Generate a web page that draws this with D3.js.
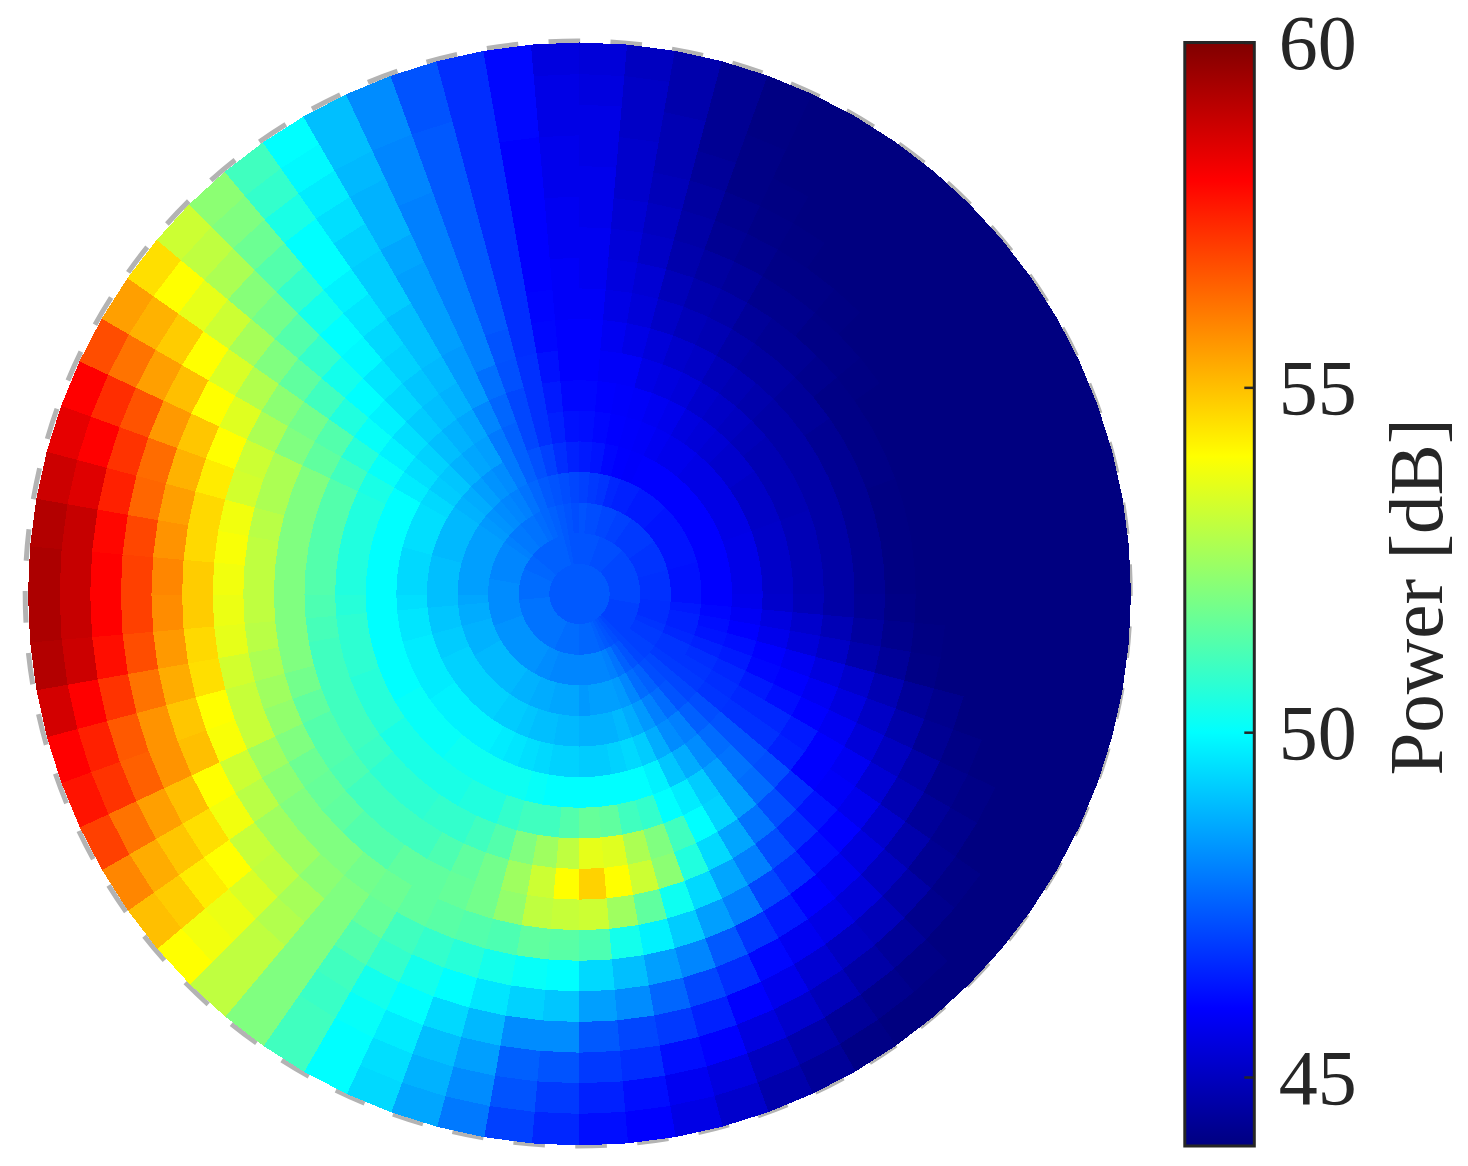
<!DOCTYPE html>
<html>
<head>
<meta charset="utf-8">
<script src="https://cdn.jsdelivr.net/npm/d3@7"></script>
<style>
  html, body { margin: 0; background: #fff; }
  svg { display: block; }
  text { font-family: "Liberation Serif", serif; fill: #262626; }
</style>
</head>
<body>
<div id="chart"></div>
<script>
// power in dB, one row per 5 degree sector, inner ring first.
// sectors run clockwise starting from the bottom of the disc
const lowerLeft = [
  [47.4,47.7,48.1,48.6,48.9,49.3,50,51.3,53,54,53.1,51.4,50,49.1,48.2,47.3,46.9,46.6],
  [47.4,47.7,48.1,48.6,48.9,49.3,50,51,52.5,53.2,53,51.5,50.1,49.3,48.2,47.5,47.3,47],
  [47.4,47.7,48.1,48.6,49,49.4,50.1,51,52,52.5,52.3,51.2,50.3,49.6,48.9,48.5,48.2,47.9],
  [47.4,47.7,48.1,48.7,49,49.5,50.2,50.8,51.3,51.8,51.8,51.3,50.6,50,49.4,49,48.8,48.6],
  [47.4,47.7,48.2,48.7,49.1,49.6,50.2,50.5,51,51.5,51.6,51.4,50.8,50.3,50,49.7,49.5,49.4],
  [47.4,47.8,48.2,48.8,49.2,49.7,50.2,50.5,50.8,51.2,51.5,51.5,51,50.8,50.3,50.1,50,50],
  [47.4,47.8,48.3,48.8,49.2,49.8,50.2,50.4,50.8,51,51.5,51.7,51.6,51.3,51,50.9,51,51],
  [47.4,47.8,48.3,48.9,49.3,49.8,50.2,50.4,50.7,51,51.3,51.8,52,52,52,52,52,52],
  [47.4,47.8,48.3,48.9,49.3,49.8,50.1,50.4,50.7,51,51.3,52,52.2,52.6,52.8,53,53,53],
  [47.4,47.8,48.3,48.9,49.3,49.8,50.1,50.4,50.7,51,51.5,52,52.5,53,53.4,53.7,53.8,54],
  [47.4,47.8,48.3,48.9,49.3,49.8,50.1,50.4,50.9,51.2,51.6,52,52.5,53.1,54,54.3,54.8,55],
  [47.4,47.8,48.3,48.9,49.3,49.7,50.1,50.6,51,51.3,51.7,52.2,52.9,53.8,54.5,54.9,55.3,55.9],
  [47.4,47.8,48.3,48.8,49.3,49.7,50,50.6,51,51.3,52,52.5,53.2,54,55,55.5,56.2,57],
  [47.4,47.8,48.3,48.8,49.2,49.7,50,50.6,51,51.5,52.3,53.1,53.9,55,55.7,56.5,57.2,57.7],
  [47.4,47.8,48.2,48.8,49.2,49.7,50,50.7,51,51.8,52.5,53.1,54,54.9,55.7,56.6,57.5,58],
  [47.4,47.8,48.2,48.7,49.1,49.6,50,50.7,51,52,52.7,53.3,54.5,55.3,56.2,57.2,58,58.7],
  [47.4,47.8,48.2,48.7,49.1,49.6,50,50.7,51.1,52,52.9,53.6,54.6,55.6,56.8,57.8,58.8,59.2],
  [47.4,47.7,48.2,48.6,49,49.5,50,50.6,51.2,52,53,53.7,54.8,55.8,57,58,58.9,59.3],
];

const upperLeft = [
  [47.4,47.7,48.2,48.5,49,49.4,50,50.5,51.3,52,53,53.8,54.8,55.9,57,58,58.9,59.3],
  [47.4,47.7,48.2,48.5,49,49.4,50,50.5,51.3,52,53,53.9,54.6,55.7,56.9,57.9,58.9,59.2],
  [47.4,47.7,48.1,48.5,49,49.4,50,50.5,51.3,52,52.9,53.8,54.6,55.5,56.4,57.5,58.5,58.8],
  [47.4,47.7,48.1,48.5,48.9,49.5,50,50.5,51.3,52,52.7,53.3,54.3,55.2,56.3,57.2,58,58.4],
  [47.4,47.7,48.1,48.5,48.9,49.5,50,50.5,51.3,52,52.7,53.2,54,54.9,55.6,56.7,57.3,58],
  [47.4,47.6,48.1,48.5,48.9,49.5,50,50.4,51,51.5,52,52.7,53.5,54,55,55.5,56.2,56.8],
  [47.4,47.6,48.1,48.5,48.9,49.4,49.7,50.1,50.6,51.3,51.8,52.2,52.8,53.4,54,54.8,55.2,55.5],
  [47.4,47.6,48,48.4,48.8,49.2,49.5,49.8,50.1,50.5,51,51.5,52,52.6,53.2,53.6,54,54.5],
  [47.4,47.5,47.9,48.3,48.7,49.1,49.3,49.5,49.8,50,50.3,50.8,51.3,51.8,52.1,52.7,53,53.2],
  [47.4,47.5,47.9,48.2,48.5,48.8,49,49.2,49.4,49.6,49.9,50,50.3,50.8,51.3,51.7,52,52.2],
  [47.4,47.5,47.8,48.1,48.3,48.6,48.8,49,49.1,49.3,49.4,49.6,49.8,50,50,50.4,50.8,51],
  [47.4,47.5,47.8,48,48.2,48.5,48.6,48.8,48.9,49,49,49.2,49.2,49.3,49.5,49.7,49.9,50],
  [47.4,47.5,47.7,47.8,47.9,47.9,48.1,48.4,48.4,48.5,48.5,48.5,48.6,48.8,48.8,48.9,49,49],
  [47.4,47.5,47.6,47.6,47.5,47.5,47.6,47.75,48,48,48,48,48,48,48.1,48.1,48.2,48.2],
  [47.4,47.5,47.5,47.4,47.25,47.1,47.1,47.25,47.3,47.4,47.4,47.4,47.4,47.4,47.4,47.4,47.3,47.3],
  [47.4,47.4,47.4,47.3,47,46.75,46.75,46.75,46.7,46.7,46.7,46.7,46.7,46.7,46.7,46.7,46.7,46.7],
  [47.4,47.3,47.3,47.2,46.7,46.5,46.4,46.25,46.1,46.05,46,46,46,46,46,46.1,46.1,46.1],
  [47.4,47.3,47.2,47.1,46.5,46.25,46.1,46,46,45.9,45.9,45.8,45.8,45.7,45.7,45.6,45.6,45.5],
];

const upperRight = [
  [47.4,47.3,47.3,47,46.4,46.2,46.1,46,46,45.9,45.8,45.8,45.7,45.7,45.6,45.6,45.5,45.4],
  [47.4,47.3,47.2,46.9,46.3,46.1,46,45.9,45.8,45.6,45.5,45.4,45.3,45.2,45.2,45.1,45.1,45],
  [47.4,47.3,47.2,46.8,46.1,46,45.95,45.9,45.6,45.4,45.3,45.1,45,44.9,44.8,44.8,44.7,44.7],
  [47.4,47.3,47.1,46.6,46,45.95,45.9,45.6,45.4,45.1,44.9,44.7,44.6,44.5,44.4,44.3,44.3,44.3],
  [47.4,47.2,47.1,46.5,45.95,45.9,45.8,45.5,45.2,44.9,44.7,44.5,44.3,44.2,44.1,44.1,44.05,44.05],
  [47.4,47.2,47,46.5,46,45.8,45.7,45.4,45.1,44.8,44.6,44.4,44.2,44.1,44.05,44,44,44],
  [47.4,47.2,47,46.4,46,45.7,45.5,45.2,44.9,44.6,44.4,44.2,44.1,44.05,44,44,44,44],
  [47.4,47.2,46.9,46.4,46,45.7,45.4,45.1,44.8,44.5,44.3,44.2,44.1,44,44,44,44,44],
  [47.4,47.2,46.9,46.4,46,45.6,45.3,45,44.7,44.5,44.3,44.1,44.05,44,44,44,44,44],
  [47.4,47.1,46.9,46.3,46,45.6,45.2,44.9,44.6,44.4,44.2,44.1,44,44,44,44,44,44],
  [47.4,47.1,46.9,46.3,46,45.6,45.2,44.8,44.6,44.4,44.1,44.05,44,44,44,44,44,44],
  [47.4,47.1,46.8,46.3,46,45.6,45.1,44.8,44.6,44.3,44.1,44,44,44,44,44,44,44],
  [47.4,47.1,46.8,46.3,46,45.6,45.1,44.8,44.6,44.3,44.1,44,44,44,44,44,44,44],
  [47.4,47.1,46.8,46.3,46,45.6,45.1,44.8,44.6,44.3,44.1,44,44,44,44,44,44,44],
  [47.4,47.1,46.8,46.3,46,45.65,45.15,44.85,44.6,44.3,44.05,44,44,44,44,44,44,44],
  [47.4,47.1,46.75,46.25,46,45.65,45.15,44.85,44.6,44.3,44.05,44,44,44,44,44,44,44],
  [47.4,47.1,46.75,46.25,46,45.65,45.15,44.85,44.6,44.3,44.05,44,44,44,44,44,44,44],
  [47.4,47.1,46.75,46.25,46,45.65,45.15,44.85,44.6,44.3,44.05,44,44,44,44,44,44,44],
];

const lowerRight = [
  [47.4,47.1,46.75,46.25,46,45.7,45.2,44.9,44.6,44.35,44.1,44,44,44,44,44,44,44],
  [47.4,47.1,46.7,46.4,46.1,45.85,45.5,45.2,44.85,44.5,44.2,44.05,44,44,44,44,44,44],
  [47.4,47,46.7,46.5,46.2,46,45.7,45.4,45.1,44.7,44.4,44.1,44,44,44,44,44,44],
  [47.4,47,46.7,46.5,46.3,46.2,46,45.8,45.5,45.2,44.8,44.4,44.2,44,44,44,44,44],
  [47.4,47,46.8,46.6,46.5,46.4,46.1,46,45.8,45.5,45.1,44.7,44.3,44.1,44,44,44,44],
  [47.4,47,46.9,46.8,46.7,46.6,46.4,46.2,46,45.8,45.4,45,44.6,44.2,44.1,44,44,44],
  [47.4,47,46.9,46.8,46.8,46.7,46.6,46.6,46.4,46,45.8,45.3,44.8,44.4,44.2,44,44,44],
  [47.4,47,47,46.9,46.9,46.8,46.75,46.75,46.5,46,45.9,45.7,45.2,44.7,44.3,44.1,44,44],
  [47.4,47,47,47.1,47.1,47.2,47.3,47.3,47.2,46.7,46.3,46,45.5,45,44.6,44.2,44,44],
  [47.4,47.1,47.1,47.2,47.3,47.5,47.7,47.8,47.7,47.2,46.7,46.2,45.8,45.4,44.9,44.4,44.1,44],
  [47.4,47.2,47.3,47.5,47.7,48,48.2,48.5,48.5,47.8,47.2,46.7,46,45.6,45,44.6,44.2,44],
  [47.4,47.3,47.5,47.7,48,48.2,48.7,49.2,49.3,48.6,48,47.1,46.4,45.8,45.3,44.9,44.4,44.1],
  [47.4,47.4,47.8,48.1,48.4,48.7,49.1,49.7,50,49.4,48.6,48,46.8,46.1,45.7,45.2,44.7,44.4],
  [47.4,47.5,48,48.4,48.7,49.2,49.8,50,51,50.5,49.4,48.5,47.4,46.7,46,45.5,45,44.7],
  [47.4,47.6,48.1,48.5,48.9,49.4,50,50.8,52,52.2,50.2,49.2,48.1,47.1,46.5,46,45.5,45.2],
  [47.4,47.6,48.1,48.5,48.8,49.3,50,51,52.7,53.2,51.5,49.8,48.5,47.6,46.9,46.2,45.8,45.6],
  [47.4,47.6,48.1,48.5,48.8,49.2,50,51.5,53.5,54,52.5,50.3,49,48.2,47.1,46.7,46.2,46],
  [47.4,47.6,48.1,48.4,48.8,49.2,50,51.6,53.6,54.7,53.2,51.2,49.4,48.5,47.4,46.9,46.5,46.2],
];

const colorDomain = [44, 46, 50, 54, 58, 60];
const colorRange = ["#000080", "#0000ff", "#00ffff", "#ffff00", "#ff0000", "#800000"];
const barTicks = [45, 50, 55, 60];
const barLabel = "Power [dB]";

const width = 1468;
const height = 1166;
const center = { x: 579.5, y: 594 };
const outerRadius = 551;
const dashCenter = { x: 577.7, y: 593.5 };
const bar = { x: 1184.8, y: 42.5, width: 69.5, height: 1103.5 };

const sectors = [...lowerLeft, ...upperLeft, ...upperRight, ...lowerRight];

const color = d3.scaleLinear().domain(colorDomain).range(colorRange).clamp(true);

const svg = d3
  .select("#chart")
  .append("svg")
  .attr("width", width)
  .attr("height", height);

// dashed reference circle goes under the cells
svg
  .append("circle")
  .attr("transform", `translate(${dashCenter.x}, ${dashCenter.y}) rotate(3.4)`)
  .attr("r", 552.5)
  .attr("pathLength", 56)
  .attr("fill", "none")
  .attr("stroke", "#b3b3b3")
  .attr("stroke-width", 5)
  .attr("stroke-dasharray", "0.51 0.49");

const radius = d3
  .scaleLinear()
  .domain([0, sectors[0].length])
  .range([0, outerRadius]);

const angle = d3
  .scaleLinear()
  .domain([0, sectors.length])
  .range([Math.PI, 3 * Math.PI]);

const cells = sectors.flatMap((row, s) => row.map((value, r) => ({ s, r, value })));

const cellPath = (d) => {
  const corners = [
    d3.pointRadial(angle(d.s), radius(d.r)),
    d3.pointRadial(angle(d.s), radius(d.r + 1)),
    d3.pointRadial(angle(d.s + 1), radius(d.r + 1)),
    d3.pointRadial(angle(d.s + 1), radius(d.r)),
  ];
  return d3.line()(corners) + "Z";
};

svg
  .append("g")
  .attr("transform", `translate(${center.x}, ${center.y})`)
  .attr("shape-rendering", "crispEdges")
  .selectAll("path")
  .data(cells)
  .enter()
  .append("path")
  .attr("d", cellPath)
  .attr("fill", (d) => color(d.value))
  .attr("stroke", (d) => color(d.value))
  .attr("stroke-width", 1);

// colorbar
const barScale = d3
  .scaleLinear()
  .domain([44, 60])
  .range([bar.y + bar.height, bar.y]);

const gradient = svg
  .append("defs")
  .append("linearGradient")
  .attr("id", "jet")
  .attr("x1", 0)
  .attr("y1", 1)
  .attr("x2", 0)
  .attr("y2", 0);

gradient
  .selectAll("stop")
  .data(colorDomain)
  .enter()
  .append("stop")
  .attr("offset", (d) => (d - 44) / 16)
  .attr("stop-color", (d) => color(d));

svg
  .append("rect")
  .attr("x", bar.x)
  .attr("y", bar.y)
  .attr("width", bar.width)
  .attr("height", bar.height)
  .attr("fill", "url(#jet)")
  .attr("stroke", "#262626")
  .attr("stroke-width", 3);

const barAxis = svg
  .append("g")
  .attr("transform", `translate(${bar.x + bar.width}, 0)`)
  .call(d3.axisRight(barScale).tickValues(barTicks).tickSize(-10).tickPadding(0));

barAxis.select(".domain").remove();
barAxis
  .selectAll(".tick line")
  .attr("stroke", "#262626")
  .attr("stroke-width", 2.5);
barAxis
  .selectAll(".tick text")
  .attr("x", 24.5)
  .attr("dy", 26)
  .attr("text-anchor", "start")
  .style("font-family", '"Liberation Serif", serif')
  .style("font-size", "78px")
  .style("fill", "#262626");

svg
  .append("text")
  .attr("transform", "translate(1442, 597) rotate(-90)")
  .attr("text-anchor", "middle")
  .style("font-size", "77px")
  .text(barLabel);
</script>
</body>
</html>
